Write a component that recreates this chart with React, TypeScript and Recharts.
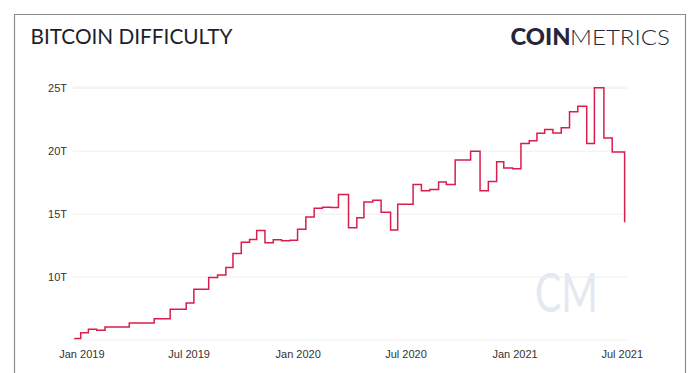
import React from 'react';
import { LineChart, Line, XAxis, YAxis, CartesianGrid } from 'recharts';

// difficulty adjustment dates and the value (in T) that applied from that date
const stepDates = [
  '2018-12-19', '2018-12-30', '2019-01-12', '2019-01-26', '2019-02-09', '2019-03-22',
  '2019-05-03', '2019-05-30', '2019-06-26', '2019-07-09', '2019-08-03', '2019-08-18',
  '2019-09-01', '2019-09-13', '2019-09-27', '2019-10-11', '2019-10-23', '2019-11-06',
  '2019-11-20', '2019-12-04', '2019-12-18', '2019-12-31', '2020-01-14', '2020-01-28',
  '2020-02-11', '2020-02-25', '2020-03-09', '2020-03-26', '2020-04-09', '2020-04-21',
  '2020-05-06', '2020-05-20', '2020-06-05', '2020-06-17', '2020-07-13', '2020-07-27',
  '2020-08-10', '2020-08-25', '2020-09-07', '2020-09-22', '2020-10-18', '2020-11-03',
  '2020-11-17', '2020-12-01', '2020-12-13', '2020-12-28', '2021-01-11', '2021-01-25',
  '2021-02-07', '2021-02-20', '2021-03-06', '2021-03-20', '2021-04-03', '2021-04-17',
  '2021-05-02', '2021-05-15', '2021-05-31', '2021-06-14', '2021-07-05',
];

const difficultyT = [
  5.11, 5.58, 5.85, 5.77, 6.04, 6.36,
  6.68, 7.44, 7.93, 9.04, 9.96, 10.17,
  10.75, 11.88, 12.76, 12.98, 13.69, 12.72,
  12.97, 12.88, 12.93, 13.80, 14.78, 15.47,
  15.55, 15.52, 16.55, 13.91, 14.72, 15.96,
  16.10, 15.14, 13.73, 15.78, 17.35, 16.85,
  16.95, 17.56, 17.35, 19.31, 19.99, 16.85,
  17.59, 19.16, 18.67, 18.60, 20.61, 20.82,
  21.43, 21.72, 21.45, 21.87, 23.14, 23.58,
  20.61, 25.05, 21.05, 19.93, 14.36,
];

const xTickDates = ['2019-01-01', '2019-07-01', '2020-01-01', '2020-07-01', '2021-01-01', '2021-07-01'];
const yTicks = [10, 15, 20, 25];
const monthNames = ['Jan', 'Feb', 'Mar', 'Apr', 'May', 'Jun', 'Jul', 'Aug', 'Sep', 'Oct', 'Nov', 'Dec'];

const data = stepDates.map((d, i) => ({ time: Date.parse(d), value: difficultyT[i] }));
const xTicks = xTickDates.map((d) => Date.parse(d));

const fmtDate = (t: number) => {
  const d = new Date(t);
  return `${monthNames[d.getUTCMonth()]} ${d.getUTCFullYear()}`;
};

const tickStyle = { fill: '#333', fontSize: 11, fontFamily: '"Liberation Sans", Arial, sans-serif' };

export default function App() {
  return (
    <div style={{ position: 'absolute', left: 0, top: 0, width: 700, height: 373, background: '#fff', overflow: 'hidden' }}>
      <svg width={700} height={373} style={{ position: 'absolute', left: 0, top: 0 }}>
        {/* watermark sits behind the chart */}
        <text x={535} y={312} fontFamily="Lato, sans-serif" fontSize={54} fill="#e4e8f0" textLength={63} lengthAdjust="spacingAndGlyphs">
          CM
        </text>
      </svg>

      <LineChart width={700} height={373} data={data} margin={{ top: 87, right: 73, left: 0, bottom: 3 }} style={{ position: 'absolute', left: 0, top: 0 }}>
        <CartesianGrid vertical={false} stroke="#efefef" />
        <XAxis
          dataKey="time"
          type="number"
          scale="time"
          domain={[Date.parse('2018-12-17'), Date.parse('2021-07-09')]}
          ticks={xTicks}
          tickFormatter={fmtDate}
          axisLine={false}
          tickLine={false}
          tickSize={0}
          tickMargin={10}
          height={30}
          tick={tickStyle}
        />
        <YAxis
          type="number"
          domain={[5, 25.1]}
          ticks={yTicks}
          tickFormatter={(v) => `${v}T`}
          axisLine={false}
          tickLine={false}
          tickSize={0}
          tickMargin={6}
          width={73}
          tick={tickStyle}
        />
        <Line
          type="stepAfter"
          dataKey="value"
          stroke="#d81e4c"
          strokeWidth={1.5}
          dot={false}
          isAnimationActive={false}
        />
      </LineChart>

      <svg width={700} height={373} style={{ position: 'absolute', left: 0, top: 0, pointerEvents: 'none' }}>
        <path d="M14.5,373 V14.5 H685.5 V373" fill="none" stroke="#8c8c8c" strokeWidth={1.2} />
        <text x={30.5} y={44} fontFamily="Lato, sans-serif" fontSize={21} fill="#1e1e2c" textLength={202} lengthAdjust="spacingAndGlyphs">
          BITCOIN DIFFICULTY
        </text>
        <text x={510.5} y={44.5} fontFamily="Lato, sans-serif" fontWeight={900} fontSize={22} fill="#26263a" textLength={60} lengthAdjust="spacingAndGlyphs">
          COIN
        </text>
        <text x={570} y={44.5} fontFamily="Lato, sans-serif" fontWeight={300} fontSize={22} fill="#26263a" textLength={100} lengthAdjust="spacingAndGlyphs">
          METRICS
        </text>
      </svg>
    </div>
  );
}
